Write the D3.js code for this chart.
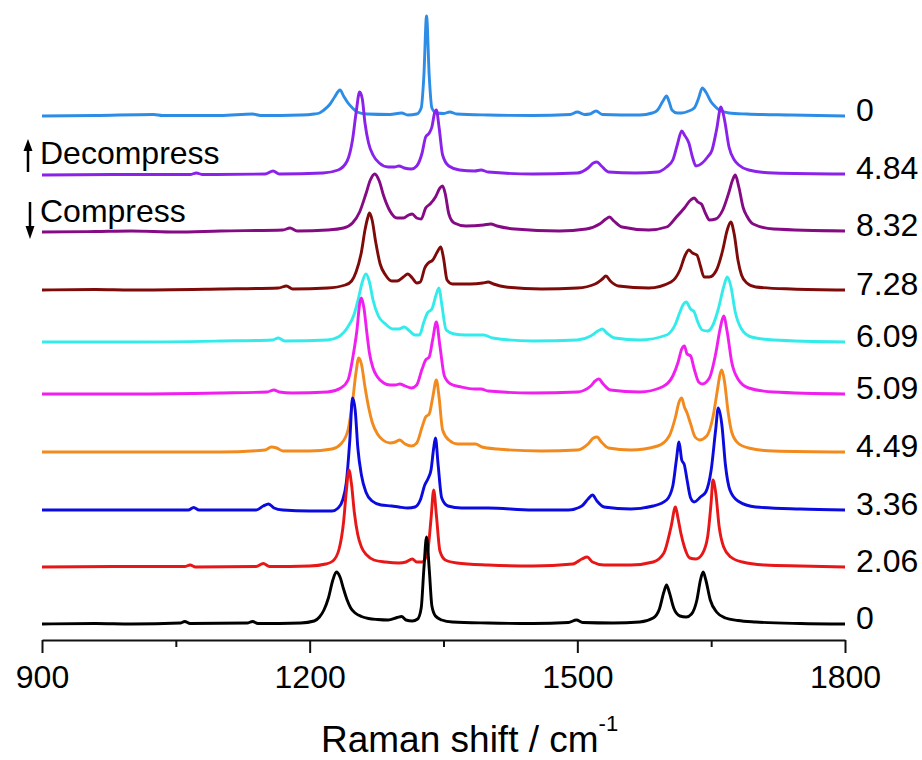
<!DOCTYPE html>
<html><head><meta charset="utf-8">
<script src="https://cdn.jsdelivr.net/npm/d3@7"></script>
<style>
body{margin:0;background:#fff}
text{font-family:Arial,'Liberation Sans',Helvetica,sans-serif;fill:#000}
</style>
</head><body>
<svg id="chart" width="922" height="760"></svg>
<script>
// ---------- DATA ----------
// pressures (GPa) labelling each trace, listed top to bottom
const pressures = ["0", "4.84", "8.32", "7.28", "6.09", "5.09", "4.49", "3.36", "2.06", "0"];
// vertical stacking offsets (a.u.)
const offsets = [508, 449, 392, 334, 282, 230, 172, 114, 57, 0];
const xTicks = [900, 1200, 1500, 1800];
const xMinorTicks = [1050, 1350, 1650];
const annotations = ["Decompress", "Compress"];

// spectra: [Raman shift (cm-1), intensity (a.u.)]
const specTop0 = [[900,0],[960,0.5],[1025,1.5],[1035,0.5],[1100,0.5],[1136,2],[1145,0.5],[1190,1],[1205,2],[1211,3],[1216,6],[1222,11],[1228,19],[1234,26],[1238,20],[1243,13],[1248,8],[1253,4],[1264,2],[1290,1.5],[1303,3],[1310,1],[1320,2],[1325,8],[1328,40],[1331,100],[1334,40],[1337,8],[1342,3],[1350,2.5],[1357,4],[1365,2],[1400,1],[1450,0.5],[1492,1.5],[1500,4],[1508,1.5],[1514,2],[1521,5],[1528,1.5],[1570,1],[1584,3],[1590,6],[1596,15],[1600,20],[1603,14],[1606,6],[1612,3],[1617,3],[1625,5],[1631,8],[1636,18],[1640,28],[1644,24],[1650,14],[1655,9],[1659,6],[1670,3],[1690,2],[1740,1],[1800,0]];
const spec484 = [[900,0],[1000,0.5],[1066,0.5],[1073,2],[1080,0.5],[1150,1],[1159,4],[1166,1],[1215,2],[1232,5],[1242,14],[1248,35],[1252,62],[1256,83],[1259,76],[1262,52],[1266,32],[1271,20],[1278,12],[1288,8],[1295,8],[1300,9],[1306,7],[1314,6],[1320,9],[1326,22],[1330,38],[1334,42],[1337,48],[1340,62],[1342,65],[1345,48],[1349,20],[1356,9],[1368,5],[1385,4],[1392,5],[1400,3],[1450,1],[1500,2],[1512,7],[1518,12],[1522,13],[1527,9],[1535,3],[1565,2],[1590,3],[1600,8],[1607,15],[1612,30],[1617,44],[1620,40],[1625,32],[1629,18],[1633,9],[1640,12],[1646,18],[1651,25],[1656,45],[1661,68],[1665,55],[1670,28],[1676,15],[1681,10],[1692,5],[1720,2],[1800,1]];
const spec832 = [[900,0],[960,0.5],[1000,1],[1050,0],[1100,1],[1170,2],[1178,4],[1186,1],[1220,2],[1238,4],[1248,9],[1256,20],[1263,38],[1268,52],[1273,58],[1278,51],[1283,36],[1290,21],[1298,14],[1305,14],[1311,17],[1315,18],[1320,14],[1325,13],[1330,24],[1335,28],[1341,35],[1346,44],[1349,46],[1352,38],[1356,18],[1362,9],[1375,6],[1395,7],[1403,8],[1410,6],[1430,3],[1480,1],[1510,3],[1525,8],[1532,13],[1536,15],[1541,11],[1550,5],[1580,2],[1600,5],[1611,15],[1620,24],[1627,32],[1631,34],[1635,30],[1639,28],[1644,18],[1648,12],[1655,13],[1663,22],[1670,40],[1674,52],[1677,57],[1681,45],[1686,24],[1690,16],[1697,8],[1720,3],[1800,1]];
const spec728 = [[900,0],[960,0.5],[1000,0],[1100,1],[1165,2],[1174,4],[1181,1],[1220,2],[1240,5],[1247,9],[1252,18],[1258,38],[1262,60],[1265,72],[1267,77],[1270,70],[1274,48],[1279,26],[1285,15],[1292,9],[1298,9],[1305,13],[1310,16],[1315,12],[1320,7],[1324,8],[1329,22],[1333,27],[1338,30],[1343,38],[1347,43],[1350,32],[1354,10],[1360,6],[1380,6],[1394,7],[1400,8],[1406,6],[1420,3],[1460,1],[1500,2],[1520,6],[1528,11],[1532,14],[1537,9],[1546,4],[1580,2],[1605,8],[1615,20],[1621,35],[1625,40],[1629,37],[1634,35],[1638,24],[1642,13],[1648,13],[1656,20],[1663,40],[1668,60],[1672,68],[1676,55],[1680,30],[1684,15],[1690,7],[1700,3],[1740,1],[1800,0]];
const spec609 = [[900,0],[1000,0],[1100,1],[1158,2],[1165,4],[1172,1],[1220,2],[1232,5],[1242,14],[1250,28],[1255,45],[1259,60],[1263,68],[1267,60],[1271,42],[1277,26],[1285,18],[1293,13],[1300,13],[1306,15],[1312,11],[1318,7],[1323,7],[1328,20],[1332,29],[1337,33],[1342,48],[1345,54],[1348,38],[1353,12],[1362,8],[1375,7],[1388,7],[1395,7],[1405,4],[1450,1],[1500,2],[1515,6],[1523,11],[1528,13],[1533,9],[1542,4],[1570,2],[1600,7],[1610,18],[1615,30],[1619,38],[1622,40],[1627,33],[1631,30],[1635,20],[1640,12],[1646,11],[1652,17],[1658,33],[1664,55],[1668,65],[1672,56],[1677,30],[1684,13],[1695,5],[1720,2],[1800,0]];
const spec509 = [[900,0],[1000,0],[1100,1],[1152,2],[1160,4],[1166,2],[1180,1],[1220,2],[1235,6],[1243,14],[1249,40],[1253,64],[1256,90],[1258,96],[1261,85],[1264,62],[1267,41],[1271,26],[1276,17],[1283,11],[1290,9],[1296,9],[1301,10],[1307,8],[1314,6],[1320,9],[1326,25],[1330,34],[1334,37],[1338,55],[1342,72],[1346,48],[1351,18],[1358,10],[1370,7],[1385,5],[1392,5],[1400,3],[1450,1],[1500,2],[1515,8],[1520,13],[1524,15],[1529,10],[1537,4],[1570,2],[1595,7],[1607,18],[1613,32],[1617,45],[1620,48],[1623,40],[1627,38],[1631,25],[1636,12],[1640,10],[1648,16],[1655,40],[1660,65],[1664,78],[1668,62],[1673,32],[1680,15],[1692,6],[1720,2],[1800,0]];
const spec449 = [[900,0],[1000,0],[1100,0],[1150,2],[1157,5],[1163,4],[1170,1],[1200,1],[1225,3],[1235,8],[1243,22],[1248,50],[1252,80],[1255,94],[1258,88],[1262,65],[1266,45],[1270,30],[1276,18],[1282,12],[1290,9],[1296,10],[1301,12],[1307,8],[1314,6],[1320,9],[1326,25],[1330,35],[1334,38],[1338,55],[1342,72],[1345,55],[1349,22],[1356,12],[1366,8],[1378,8],[1386,8],[1393,5],[1410,3],[1460,1],[1500,2],[1512,8],[1518,14],[1522,15],[1527,10],[1535,4],[1560,2],[1590,6],[1603,16],[1610,35],[1614,50],[1617,54],[1620,45],[1623,39],[1627,28],[1632,15],[1637,12],[1645,16],[1652,35],[1657,62],[1660,78],[1662,82],[1665,70],[1669,40],[1673,20],[1680,9],[1692,4],[1720,1],[1800,0]];
const spec336 = [[900,0],[1000,0],[1064,0],[1070,2.5],[1076,0],[1140,0],[1148,4],[1154,6],[1160,2],[1170,0],[1200,-1],[1225,-1],[1232,2],[1237,10],[1241,27],[1245,70],[1248,112],[1251,100],[1254,62],[1258,35],[1263,18],[1270,9],[1280,5],[1292,4],[1300,3],[1310,2],[1318,3],[1324,10],[1329,25],[1333,32],[1336,40],[1339,62],[1341,72],[1344,45],[1348,12],[1355,4],[1370,2],[1400,2],[1450,0],[1490,0],[1505,4],[1512,11],[1517,15],[1522,9],[1530,3],[1560,1],[1585,4],[1600,10],[1607,24],[1611,50],[1614,68],[1617,50],[1620,45],[1623,30],[1627,12],[1631,8],[1638,13],[1644,18],[1650,40],[1655,80],[1658,102],[1662,85],[1666,45],[1671,20],[1680,9],[1700,3],[1750,1],[1800,0]];
const spec206 = [[900,0],[1000,0.5],[1060,0.5],[1066,2],[1072,0],[1140,0.5],[1148,3.5],[1155,0.5],[1200,1],[1218,3],[1226,6],[1233,18],[1238,45],[1241,75],[1244,97],[1247,82],[1250,55],[1254,32],[1258,20],[1264,12],[1272,7],[1285,5],[1300,4],[1308,5],[1315,8],[1320,5],[1326,5],[1332,14],[1336,48],[1339,77],[1342,52],[1346,16],[1352,7],[1365,4],[1400,2],[1450,1],[1495,3],[1505,8],[1511,10],[1517,5],[1530,2],[1560,2],[1585,5],[1597,14],[1605,40],[1610,60],[1613,48],[1616,34],[1620,20],[1626,9],[1633,8],[1640,13],[1646,30],[1650,65],[1652,87],[1655,75],[1659,40],[1664,20],[1672,10],[1685,5],[1710,2],[1750,1],[1800,0]];
const spec0 = [[900,0],[960,0.5],[1000,0],[1055,1],[1060,2.5],[1066,0.5],[1130,1],[1136,2.5],[1142,0.5],[1190,1],[1205,3],[1211,7],[1216,14],[1221,26],[1226,44],[1230,52],[1234,47],[1238,35],[1242,24],[1246,16],[1251,11],[1258,7.5],[1266,5.5],[1276,4.5],[1288,4],[1298,6.5],[1303,7.5],[1308,4],[1315,3],[1321,5],[1325,16],[1328,55],[1331,87],[1334,55],[1337,18],[1341,8],[1348,4],[1360,2],[1400,1],[1450,0.5],[1490,1.5],[1499,4],[1506,1.5],[1540,1],[1570,2],[1585,6],[1592,15],[1597,32],[1600,39],[1603,32],[1608,16],[1615,8],[1622,7],[1628,10],[1634,24],[1638,44],[1641,52],[1644,44],[1649,24],[1656,12],[1666,6],[1680,3.5],[1700,2],[1750,0.5],[1800,0]];

const spectra = [specTop0, spec484, spec832, spec728, spec609, spec509, spec449, spec336, spec206, spec0];
const colors = ["#2d8de6", "#8a22ea", "#840b84", "#7e0a0a", "#33ebeb", "#f01ff0", "#f28a1e", "#0b0be0", "#e81616", "#000000"];

// ---------- CHART ----------
const svg = d3.select("#chart");
const x = d3.scaleLinear().domain([900, 1800]).range([42, 845]);
const y = d3.scaleLinear().domain([0, 570]).range([624, 54]);
const axisY = 640;

const line = d3.line()
  .x(d => x(d[0]))
  .curve(d3.curveMonotoneX);

const g = svg.append("g");
spectra.forEach((s, i) => {
  g.append("path")
    .datum(s)
    .attr("fill", "none")
    .attr("stroke", colors[i])
    .attr("stroke-width", 2.9)
    .attr("stroke-linejoin", "round")
    .attr("d", line.y(d => y(d[1] + offsets[i])));
});

// right-hand pressure labels
pressures.forEach((p, i) => {
  const last = spectra[i][spectra[i].length - 1];
  svg.append("text")
    .attr("x", 856)
    .attr("y", y(last[1] + offsets[i]) - 7)
    .attr("dy", "0.36em")
    .attr("font-size", 32)
    .text(p);
});

// bottom axis
const axMajor = d3.axisBottom(x).tickValues(xTicks).tickSize(13).tickSizeOuter(0).tickPadding(12).tickFormat(d3.format("d"));
const axMinor = d3.axisBottom(x).tickValues(xMinorTicks).tickSize(7).tickSizeOuter(0).tickFormat("");
const gA = svg.append("g").attr("transform", `translate(0,${axisY})`).call(axMajor);
const gB = svg.append("g").attr("transform", `translate(0,${axisY})`).call(axMinor);
[gA, gB].forEach(a => {
  a.selectAll("path,line").attr("stroke", "#111").attr("stroke-width", 2);
});
gB.select(".domain").remove();
gA.selectAll("text").attr("font-size", 32).attr("font-family", "Arial,'Liberation Sans',sans-serif").attr("fill", "#111");

// axis title
const t = svg.append("text").attr("x", 321).attr("y", 752).attr("font-size", 37);
t.append("tspan").text("Raman shift / cm");
t.append("tspan").attr("dy", -21).attr("font-size", 22).text("-1");

// annotations with arrows
svg.append("text").attr("x", 40).attr("y", 164).attr("font-size", 32).text(annotations[0]);
svg.append("text").attr("x", 40).attr("y", 222).attr("font-size", 32).text(annotations[1]);
svg.append("line").attr("x1", 28).attr("x2", 28).attr("y1", 172).attr("y2", 148).attr("stroke", "#000").attr("stroke-width", 2.5);
svg.append("path").attr("d", "M28,139 L23.5,151 L32.5,151 Z").attr("fill", "#000");
svg.append("line").attr("x1", 30).attr("x2", 30).attr("y1", 202).attr("y2", 229).attr("stroke", "#000").attr("stroke-width", 2.5);
svg.append("path").attr("d", "M30,239 L25.5,226 L34.5,226 Z").attr("fill", "#000");
</script>
</body></html>
